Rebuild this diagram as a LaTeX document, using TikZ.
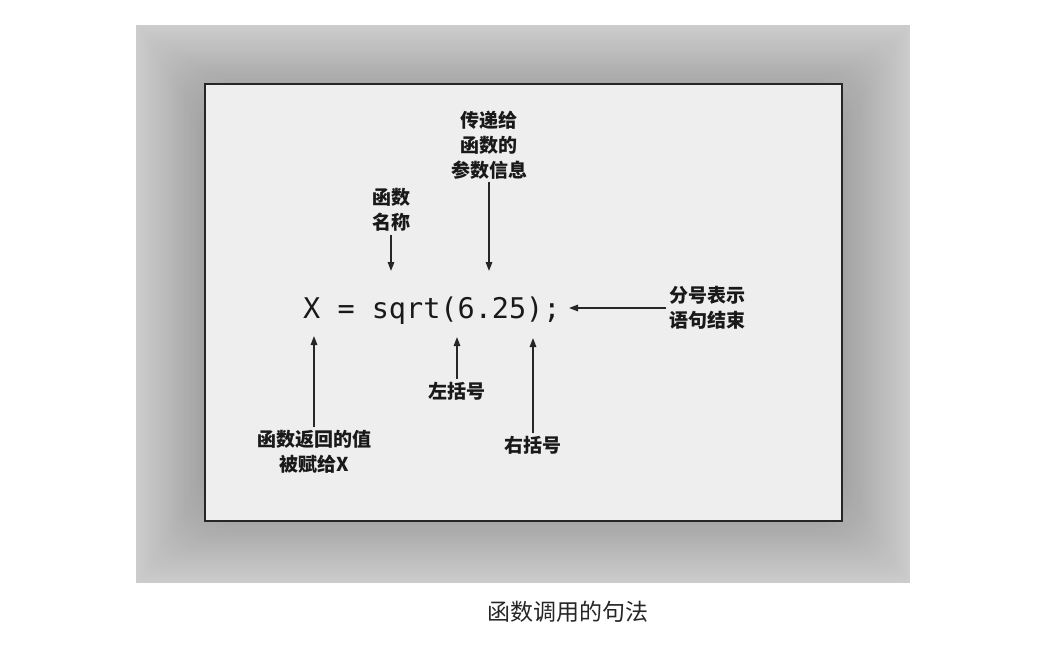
\documentclass[tikz,border=0pt]{standalone}
\usepackage{fontspec}
\setmainfont{Liberation Serif}
\newfontfamily\cjk{Noto Sans CJK SC}
\newfontfamily\codefont{DejaVu Sans Mono}
\usetikzlibrary{arrows.meta}
\definecolor{innerfill}{RGB}{238,238,238}
\tikzset{
  lbl/.style={font=\cjk\bfseries\fontsize{19}{25}\selectfont, align=center, inner sep=3pt, text=black!90},
  arr/.style={line width=1.5pt, black!85, -{Triangle[length=9pt,width=6.5pt]}},
}
\begin{document}
\begin{tikzpicture}[x=1pt,y=-1pt]
\useasboundingbox (0,0) rectangle (1057,648);
\fill[white] (0,0) rectangle (1057,648);
% glow frame
\fill[black!20!white] (136,25) rectangle (910,583);
\foreach \i in {1,...,22} {
  \pgfmathsetmacro\g{20+0.75*\i}
  \fill[black!\g!white, rounded corners=2.2*\i] (136+3*\i,25+3*\i) rectangle (910-3*\i,583-3*\i);
}
% inner box
\draw[line width=2pt, black!85, fill=innerfill] (205,84) rectangle (842,521);
% code
\node[anchor=base west, inner sep=0pt, font=\codefont\fontsize{28.5}{30}\selectfont, text=black!90] (code) at (303,318) {X = sqrt(6.25);};
% labels
\node[lbl] (nameLbl) at (391,210) {函数\\名称};
\node[lbl] (paramLbl) at (489,145) {传递给\\函数的\\参数信息};
\node[lbl] (semiLbl) at (707,308) {分号表示\\语句结束};
\node[lbl] (retLbl) at (314,452) {函数返回的值\\被赋给X};
\node[lbl] (leftLbl) at (457,391) {左括号};
\node[lbl] (rightLbl) at (533,445) {右括号};
% tips
\coordinate (nameTip) at (391,271);
\coordinate (paramTip) at (489,271);
\coordinate (semiTip) at (569,308);
\coordinate (retTip) at (314,336);
\coordinate (leftTip) at (457,337);
\coordinate (rightTip) at (533,338);
% arrows
\draw[arr] (nameLbl) -- (nameTip);
\draw[arr] (paramLbl) -- (paramTip);
\draw[arr] (semiLbl) -- (semiTip);
\draw[arr] (retLbl) -- (retTip);
\draw[arr] (leftLbl) -- (leftTip);
\draw[arr] (rightLbl) -- (rightTip);
% caption
\node[font=\cjk\fontsize{23}{26}\selectfont, text=black!85] (caption) at (568,612) {函数调用的句法};
\end{tikzpicture}
\end{document}
